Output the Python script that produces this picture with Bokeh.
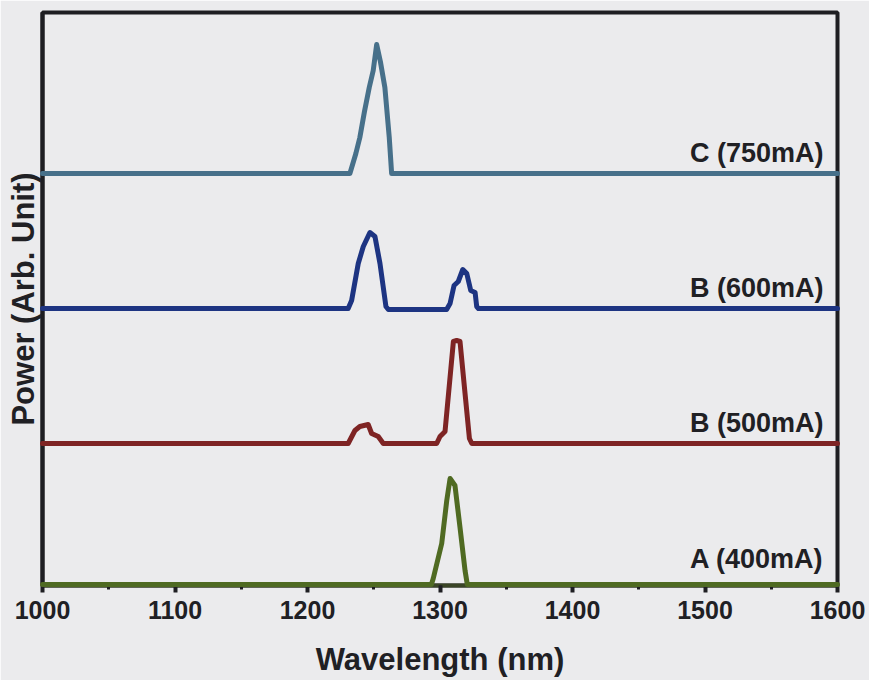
from bokeh.plotting import figure
from bokeh.models import SingleIntervalTicker, FixedTicker, Range1d
from bokeh.core.properties import value
from bokeh.embed import file_html
from bokeh.resources import INLINE

# ---- data (wavelength in nm, power in arbitrary units relative to each trace baseline) ----
labels = ["A (400mA)", "B (500mA)", "B (600mA)", "C (750mA)"]
offsets = [0.01, 1.42, 2.77, 4.12]
colors = ["#4f6a22", "#7e2424", "#1d3482", "#47708a"]

wl_a = [1000, 1293.5, 1294.9, 1301.3, 1305.1, 1307.6, 1311.3, 1315.1, 1318.9, 1320.6, 1600]
pw_a = [0.0, 0.0, 0.06, 0.41, 0.84, 1.06, 0.99, 0.57, 0.14, 0.0, 0.0]

wl_b500 = [1000, 1230.7, 1235.8, 1239.5, 1245.8, 1248.4, 1253.4, 1257.2, 1297.5, 1300.0,
           1303.8, 1310.1, 1312.6, 1315.1, 1318.9, 1322.2, 1324.0, 1600]
pw_b500 = [0.0, 0.0, 0.13, 0.17, 0.19, 0.10, 0.07, 0.0, 0.0, 0.07,
           0.12, 1.02, 1.03, 1.02, 0.50, 0.05, 0.0, 0.0]

wl_b600 = [1000, 1230.7, 1233.3, 1238.3, 1242.1, 1247.1, 1250.9, 1254.7, 1259.2, 1261.0,
           1305.0, 1307.6, 1310.6, 1313.8, 1317.2, 1320.2, 1323.2, 1326.5, 1327.7, 1329.0, 1600]
pw_b600 = [0.0, 0.0, 0.08, 0.45, 0.62, 0.76, 0.72, 0.45, 0.02, -0.01,
           -0.01, 0.05, 0.23, 0.27, 0.39, 0.35, 0.18, 0.16, 0.02, 0.0, 0.0]

wl_c = [1000, 1232.0, 1236.5, 1239.5, 1243.0, 1246.6, 1249.6, 1252.2, 1255.0, 1258.4, 1261.7, 1263.5, 1600]
pw_c = [0.0, 0.0, 0.20, 0.36, 0.62, 0.86, 1.03, 1.29, 1.12, 0.86, 0.36, 0.0, 0.0]

x_ticks = [1000, 1100, 1200, 1300, 1400, 1500, 1600]

series_wl = [wl_a, wl_b500, wl_b600, wl_c]
series_pw = [pw_a, pw_b500, pw_b600, pw_c]

BG = "#ebebed"
DARK = "#1e1e22"
TXT = "#202024"
FONT = "Liberation Sans"

p = figure(frame_width=795, frame_height=573,
           min_border_left=42, min_border_right=32, min_border_top=12, min_border_bottom=95,
           x_range=Range1d(1000, 1600), y_range=Range1d(0, 5.73),
           output_backend="svg", toolbar_location=None,
           background_fill_color=BG, border_fill_color=BG)

p.grid.visible = False
p.outline_line_color = DARK
p.outline_line_width = 4

for wl, pw, off, col in zip(series_wl, series_pw, offsets, colors):
    ys = [v + off for v in pw]
    p.line(wl, ys, line_color=col, line_width=5, line_join="round", line_cap="round",
           level="overlay")

label_gap = 0.21
lx = [1589.5] * len(labels)
ly = [o + label_gap for o in offsets]
ly[0] = offsets[0] + 0.26
p.text(x=lx, y=ly, text=labels, text_align="right", text_baseline="middle",
       text_font=value(FONT), text_font_style="bold", text_font_size="27px",
       text_color=TXT)

xa = p.xaxis[0]
xa.ticker = SingleIntervalTicker(interval=100, num_minor_ticks=2)
xa.axis_line_color = "#3a4526"
xa.axis_line_width = 4
xa.major_tick_in = 0
xa.major_tick_out = 7
xa.minor_tick_in = 0
xa.minor_tick_out = 4
xa.major_tick_line_width = 4
xa.minor_tick_line_width = 3
xa.major_tick_line_color = DARK
xa.minor_tick_line_color = DARK
xa.major_label_text_font = FONT
xa.major_label_text_font_style = "bold"
xa.major_label_text_font_size = "25px"
xa.major_label_text_color = TXT
xa.major_label_standoff = 8
xa.axis_label = "Wavelength (nm)"
xa.axis_label_text_font = FONT
xa.axis_label_text_font_style = "bold"
xa.axis_label_text_font_size = "31px"
xa.axis_label_text_color = TXT
xa.axis_label_standoff = 20

ya = p.yaxis[0]
ya.ticker = FixedTicker(ticks=[])
ya.axis_line_color = DARK
ya.axis_line_width = 4
ya.major_tick_out = 0
ya.major_tick_in = 0
ya.minor_tick_out = 0
ya.minor_tick_in = 0
ya.major_label_standoff = 0
ya.axis_label = "Power (Arb. Unit)"
ya.axis_label_text_font = FONT
ya.axis_label_text_font_style = "bold"
ya.axis_label_text_font_size = "31px"
ya.axis_label_text_color = TXT
ya.axis_label_standoff = 2

open("out.html", "w").write(file_html(p, INLINE))
